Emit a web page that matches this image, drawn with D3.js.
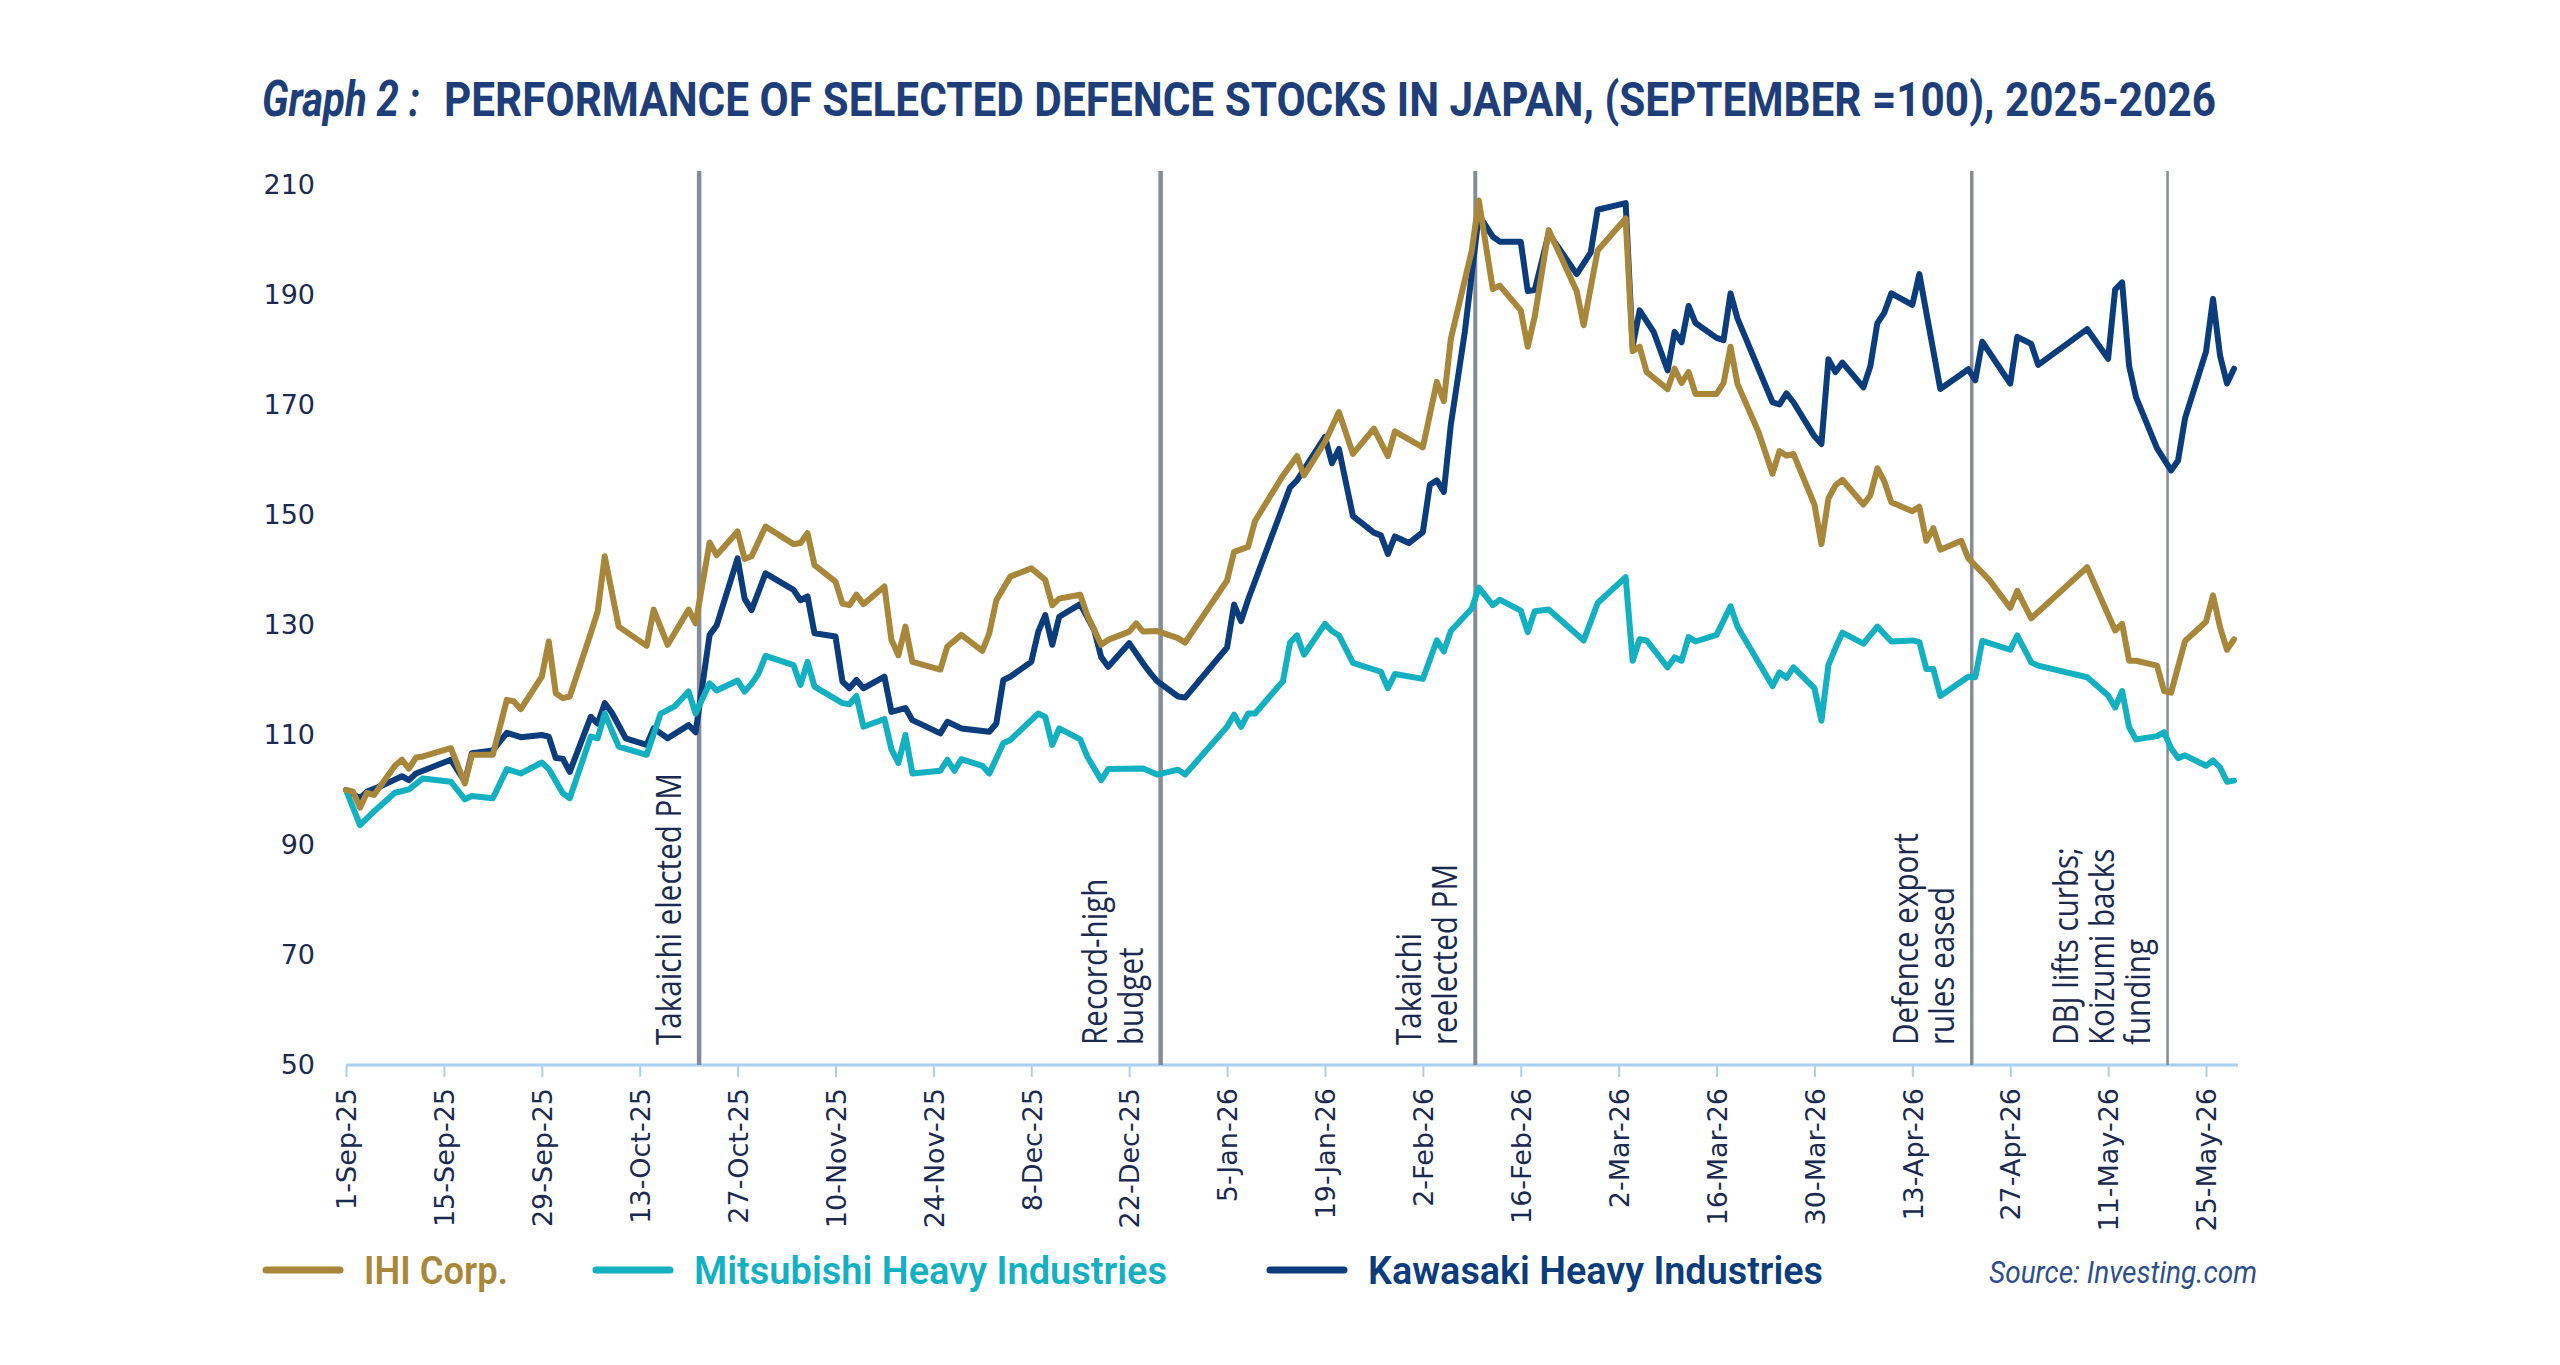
<!DOCTYPE html>
<html>
<head>
<meta charset="utf-8">
<script src="https://cdn.jsdelivr.net/npm/d3@7"></script>
<style>
  body { margin: 0; background: #fff; }
  svg { display: block; }
</style>
</head>
<body>
<svg width="2560" height="1365"></svg>
<script>
// data (index, 1-Sep-25 = 100)
var ihi = [
  ["2025-09-01",100],["2025-09-02",99.7],["2025-09-03",96.8],["2025-09-04",99.5],["2025-09-05",99.1],
  ["2025-09-08",104.4],["2025-09-09",105.5],["2025-09-10",103.9],["2025-09-11",105.9],["2025-09-12",106.1],
  ["2025-09-16",107.6],["2025-09-18",101.2],["2025-09-19",106.4],["2025-09-22",106.4],["2025-09-24",116.4],
  ["2025-09-25",116.1],["2025-09-26",114.7],["2025-09-29",120.6],["2025-09-30",127],["2025-10-01",117.6],
  ["2025-10-02",116.7],["2025-10-03",117],["2025-10-06",128.5],["2025-10-07",132.5],["2025-10-08",142.5],
  ["2025-10-10",129.7],["2025-10-14",126.2],["2025-10-15",132.8],["2025-10-17",126.4],["2025-10-20",132.8],
  ["2025-10-21",130.3],["2025-10-23",145],["2025-10-24",142.7],["2025-10-27",147],["2025-10-28",142],
  ["2025-10-29",142.5],["2025-10-31",147.9],["2025-11-04",144.7],["2025-11-05",144.9],["2025-11-06",146.7],
  ["2025-11-07",140.9],["2025-11-10",137.9],["2025-11-11",133.9],["2025-11-12",133.6],["2025-11-13",135.5],
  ["2025-11-14",133.8],["2025-11-17",137],["2025-11-18",127.3],["2025-11-19",124.5],["2025-11-20",129.7],
  ["2025-11-21",123.3],["2025-11-25",121.9],["2025-11-26",126.1],["2025-11-28",128.2],["2025-12-01",125.3],
  ["2025-12-02",128.5],["2025-12-03",134.5],["2025-12-05",138.8],["2025-12-08",140.3],["2025-12-10",138.2],
  ["2025-12-11",133.6],["2025-12-12",134.8],["2025-12-15",135.5],["2025-12-16",131.8],["2025-12-18",126.4],
  ["2025-12-19",127.3],["2025-12-22",128.8],["2025-12-23",130.3],["2025-12-24",128.8],["2025-12-26",128.9],
  ["2025-12-29",127.6],["2025-12-30",126.8],["2026-01-05",138.1],["2026-01-06",143.3],["2026-01-08",144.2],
  ["2026-01-09",148.9],["2026-01-13",157.2],["2026-01-15",160.7],["2026-01-16",157.2],["2026-01-19",163.3],
  ["2026-01-21",168.7],["2026-01-23",161.1],["2026-01-26",165.7],["2026-01-28",160.7],["2026-01-29",165.2],
  ["2026-02-02",162.3],["2026-02-04",174.2],["2026-02-05",170.7],["2026-02-06",182],["2026-02-09",198.1],
  ["2026-02-10",207.2],["2026-02-12",191.1],["2026-02-13",191.7],["2026-02-16",187.2],["2026-02-17",180.6],
  ["2026-02-18",186.1],["2026-02-20",201.8],["2026-02-24",190.7],["2026-02-25",184.5],["2026-02-27",198.1],
  ["2026-03-03",203.9],["2026-03-04",179.8],["2026-03-05",180.6],["2026-03-06",176],["2026-03-09",172.9],
  ["2026-03-10",176.6],["2026-03-11",174],["2026-03-12",176],["2026-03-13",172],["2026-03-16",172],
  ["2026-03-17",174],["2026-03-18",180.6],["2026-03-19",173.8],["2026-03-22",165.1],["2026-03-24",157.5],
  ["2026-03-25",161.6],["2026-03-26",160.8],["2026-03-27",161.1],["2026-03-30",151.9],["2026-03-31",144.7],
  ["2026-04-01",153],["2026-04-02",155.4],["2026-04-03",156.4],["2026-04-06",151.9],["2026-04-07",153.6],
  ["2026-04-08",158.5],["2026-04-09",156.1],["2026-04-10",152.3],["2026-04-13",150.7],["2026-04-14",151.5],
  ["2026-04-15",145.3],["2026-04-16",147.6],["2026-04-17",143.7],["2026-04-20",145.3],["2026-04-21",142.1],
  ["2026-04-24",138.2],["2026-04-27",133.1],["2026-04-28",136.2],["2026-04-30",131.2],["2026-05-08",140.5],
  ["2026-05-12",129],["2026-05-13",130.2],["2026-05-14",123.5],["2026-05-15",123.5],["2026-05-18",122.6],
  ["2026-05-19",118],["2026-05-20",117.7],["2026-05-22",127.1],["2026-05-25",130.6],["2026-05-26",135.4],
  ["2026-05-27",129.6],["2026-05-28",125.5],["2026-05-29",127.4]
];

var mitsubishi = [
  ["2025-09-01",100],["2025-09-03",93.6],["2025-09-05",96.1],["2025-09-08",99.5],["2025-09-10",100.1],
  ["2025-09-12",102.1],["2025-09-16",101.5],["2025-09-18",98.3],["2025-09-19",98.9],["2025-09-22",98.5],
  ["2025-09-24",103.8],["2025-09-26",103],["2025-09-29",105],["2025-09-30",103.8],["2025-10-02",99.4],
  ["2025-10-03",98.5],["2025-10-06",109.7],["2025-10-07",109.4],["2025-10-08",113.9],["2025-10-10",107.9],
  ["2025-10-14",106.4],["2025-10-16",113.9],["2025-10-18",115.2],["2025-10-20",117.9],["2025-10-21",113.9],
  ["2025-10-23",119.4],["2025-10-24",118.1],["2025-10-27",119.9],["2025-10-28",117.9],["2025-10-29",119.3],
  ["2025-10-30",121.2],["2025-10-31",124.4],["2025-11-04",122.7],["2025-11-05",119.1],["2025-11-06",123.3],
  ["2025-11-07",118.8],["2025-11-11",115.8],["2025-11-12",115.6],["2025-11-13",117.1],["2025-11-14",111.5],
  ["2025-11-17",112.9],["2025-11-18",107.4],["2025-11-19",104.9],["2025-11-20",110],["2025-11-21",103],
  ["2025-11-25",103.5],["2025-11-26",105.5],["2025-11-27",103.5],["2025-11-28",105.6],["2025-12-01",104.4],
  ["2025-12-02",103],["2025-12-04",108.5],["2025-12-05",109.1],["2025-12-09",113.9],["2025-12-10",113.3],
  ["2025-12-11",108.2],["2025-12-12",111.2],["2025-12-15",109.2],["2025-12-16",106.1],["2025-12-18",101.8],
  ["2025-12-19",103.8],["2025-12-24",103.9],["2025-12-26",102.8],["2025-12-29",103.7],["2025-12-30",102.8],
  ["2026-01-05",111.5],["2026-01-06",113.7],["2026-01-07",111.5],["2026-01-08",113.9],["2026-01-09",113.9],
  ["2026-01-13",119.8],["2026-01-14",126.8],["2026-01-15",128.1],["2026-01-16",124.6],["2026-01-19",130.2],
  ["2026-01-20",128.9],["2026-01-21",128.1],["2026-01-23",123.1],["2026-01-27",121.5],["2026-01-28",118.5],
  ["2026-01-29",121.1],["2026-02-02",120.2],["2026-02-04",127.2],["2026-02-05",125.2],["2026-02-06",128.9],
  ["2026-02-09",133],["2026-02-10",136.8],["2026-02-12",133.6],["2026-02-13",134.6],["2026-02-16",132.6],
  ["2026-02-17",128.7],["2026-02-18",132.5],["2026-02-20",132.8],["2026-02-25",127.2],["2026-02-27",134],
  ["2026-03-03",138.7],["2026-03-04",123.5],["2026-03-05",127.4],["2026-03-06",127.2],["2026-03-09",122.3],
  ["2026-03-10",124.1],["2026-03-11",123.5],["2026-03-12",127.8],["2026-03-13",127],["2026-03-16",128.2],
  ["2026-03-18",133.4],["2026-03-19",129.7],["2026-03-24",118.9],["2026-03-25",121.4],["2026-03-26",120.4],
  ["2026-03-27",122.3],["2026-03-30",118.5],["2026-03-31",112.6],["2026-04-01",122.7],["2026-04-02",125.8],
  ["2026-04-03",128.6],["2026-04-06",126.6],["2026-04-08",129.7],["2026-04-10",127],["2026-04-13",127.2],
  ["2026-04-14",126.9],["2026-04-15",122],["2026-04-16",122],["2026-04-17",117.1],["2026-04-21",120.6],
  ["2026-04-22",120.5],["2026-04-23",127.1],["2026-04-27",125.5],["2026-04-28",128.1],["2026-04-30",123.2],
  ["2026-05-01",122.6],["2026-05-08",120.5],["2026-05-11",117.2],["2026-05-12",115],["2026-05-13",118],
  ["2026-05-14",111.4],["2026-05-15",109.2],["2026-05-18",109.8],["2026-05-19",110.5],["2026-05-20",107.6],
  ["2026-05-21",105.8],["2026-05-22",106.3],["2026-05-25",104.4],["2026-05-26",105.4],["2026-05-27",104.1],
  ["2026-05-28",101.5],["2026-05-29",101.7]
];

var kawasaki = [
  ["2025-09-01",100],["2025-09-03",98.5],["2025-09-04",99.7],["2025-09-06",100.7],["2025-09-09",102.5],
  ["2025-09-10",101.8],["2025-09-11",103],["2025-09-16",105.5],["2025-09-18",101.5],["2025-09-19",106.7],
  ["2025-09-22",107.2],["2025-09-24",110.4],["2025-09-26",109.6],["2025-09-29",110],["2025-09-30",109.7],
  ["2025-10-01",105.8],["2025-10-02",105.7],["2025-10-03",103.3],["2025-10-06",113.3],["2025-10-07",112.1],
  ["2025-10-08",115.8],["2025-10-09",114.1],["2025-10-11",109.4],["2025-10-14",108.2],["2025-10-15",111.2],
  ["2025-10-17",109.4],["2025-10-20",111.8],["2025-10-21",110.5],["2025-10-23",128.2],["2025-10-24",129.9],
  ["2025-10-27",142.1],["2025-10-28",134.8],["2025-10-29",132.7],["2025-10-31",139.4],["2025-11-04",136.4],
  ["2025-11-05",134.5],["2025-11-06",135.2],["2025-11-07",128.5],["2025-11-10",127.9],["2025-11-11",119.7],
  ["2025-11-12",118.5],["2025-11-13",120],["2025-11-14",118.5],["2025-11-17",120.6],["2025-11-18",114.2],
  ["2025-11-20",114.9],["2025-11-21",112.7],["2025-11-25",110.3],["2025-11-26",112.4],["2025-11-28",111.2],
  ["2025-12-02",110.6],["2025-12-03",112.1],["2025-12-04",120],["2025-12-05",120.6],["2025-12-08",123.3],
  ["2025-12-09",128.8],["2025-12-10",131.8],["2025-12-11",126.4],["2025-12-12",131.5],["2025-12-15",133.8],
  ["2025-12-17",129.1],["2025-12-18",124.2],["2025-12-19",122.4],["2025-12-22",126.7],["2025-12-24",123],
  ["2025-12-25",121.3],["2025-12-26",119.8],["2025-12-29",117],["2025-12-30",116.8],["2026-01-05",125.9],
  ["2026-01-06",133.7],["2026-01-07",130.7],["2026-01-08",134.6],["2026-01-14",155],["2026-01-15",156.3],
  ["2026-01-19",164.2],["2026-01-20",159.4],["2026-01-21",162],["2026-01-23",149.8],["2026-01-26",146.8],
  ["2026-01-27",146.3],["2026-01-28",142.9],["2026-01-29",146.1],["2026-01-31",144.9],["2026-02-02",146.9],
  ["2026-02-03",155.5],["2026-02-04",156.3],["2026-02-05",154.2],["2026-02-06",166.4],["2026-02-08",183.3],
  ["2026-02-10",204.5],["2026-02-12",200.6],["2026-02-13",199.7],["2026-02-16",199.7],["2026-02-17",190.7],
  ["2026-02-18",190.9],["2026-02-20",201.2],["2026-02-24",193.8],["2026-02-26",197.7],["2026-02-27",205.5],
  ["2026-03-03",206.7],["2026-03-04",180.6],["2026-03-05",187.2],["2026-03-07",183.3],["2026-03-09",176.3],
  ["2026-03-10",183.3],["2026-03-11",181.4],["2026-03-12",188],["2026-03-13",184.9],["2026-03-16",182.2],
  ["2026-03-17",181.8],["2026-03-18",190.3],["2026-03-19",185.7],["2026-03-24",170.5],["2026-03-25",170.1],
  ["2026-03-26",172.1],["2026-03-27",170.5],["2026-03-30",164.3],["2026-03-31",162.9],["2026-04-01",178.3],
  ["2026-04-02",176],["2026-04-03",177.7],["2026-04-06",173.2],["2026-04-07",177.1],["2026-04-08",184.9],
  ["2026-04-09",186.8],["2026-04-10",190.3],["2026-04-13",188.2],["2026-04-14",193.8],["2026-04-17",172.9],
  ["2026-04-20",175.6],["2026-04-21",176.5],["2026-04-22",174.5],["2026-04-23",181.5],["2026-04-27",173.9],
  ["2026-04-28",182.4],["2026-04-30",181.1],["2026-05-01",177.3],["2026-05-08",183.8],["2026-05-11",178.4],
  ["2026-05-12",191],["2026-05-13",192.3],["2026-05-14",177.1],["2026-05-15",171.4],["2026-05-18",162.1],
  ["2026-05-20",158.1],["2026-05-21",159.9],["2026-05-22",167.6],["2026-05-25",179.7],["2026-05-26",189.3],
  ["2026-05-27",179],["2026-05-28",173.9],["2026-05-29",176.6]
];

var seriesNames = ["IHI Corp.", "Mitsubishi Heavy Industries", "Kawasaki Heavy Industries"];
var seriesColors = ["#a8873b", "#13b0c2", "#0b3c7c"];

var tickDates = ["2025-09-01","2025-09-15","2025-09-29","2025-10-13","2025-10-27","2025-11-10",
  "2025-11-24","2025-12-08","2025-12-22","2026-01-05","2026-01-19","2026-02-02","2026-02-16",
  "2026-03-02","2026-03-16","2026-03-30","2026-04-13","2026-04-27","2026-05-11","2026-05-25"];
var yTicks = [50, 70, 90, 110, 130, 150, 170, 190, 210];

var eventDates = ["2025-10-21", "2025-12-26", "2026-02-09", "2026-04-21", "2026-05-19"];
var eventLabels = [
  ["Takaichi elected PM"],
  ["Record-high", "budget"],
  ["Takaichi", "reelected PM"],
  ["Defence export", "rules eased"],
  ["DBJ lifts curbs;", "Koizumi backs", "funding"]
];

var parse = d3.timeParse("%Y-%m-%d");
var navy = "#1b2a50";
var narrow = "'Liberation Sans Narrow', 'Roboto', 'Open Sans', sans-serif";

var svg = d3.select("svg");
svg.append("rect").attr("width", 2560).attr("height", 1365).attr("fill", "#fff");

// scales
var x = d3.scaleTime()
    .domain([parse("2025-09-01"), parse("2026-05-29")])
    .range([346, 2234]);
var y = d3.scaleLinear().domain([50, 210]).range([1065, 185]);

// title
function fit(sel, w) {
  sel.attr("textLength", w).attr("lengthAdjust", "spacingAndGlyphs");
}
svg.append("text")
    .attr("x", 262).attr("y", 116)
    .style("font-family", narrow).style("font-weight", "bold").style("font-style", "italic")
    .style("font-size", "49px").style("fill", "#1d3e78")
    .text("Graph 2 :")
    .call(fit, 158);
svg.append("text")
    .attr("x", 444).attr("y", 116)
    .style("font-family", narrow).style("font-weight", "bold")
    .style("font-size", "49px").style("fill", "#1d3e78")
    .text("PERFORMANCE OF SELECTED DEFENCE STOCKS IN JAPAN, (SEPTEMBER =100), 2025-2026")
    .call(fit, 1772);

// y axis (labels only)
var gy = svg.append("g")
    .attr("transform", "translate(346,0)")
    .call(d3.axisLeft(y).tickValues(yTicks).tickSize(0).tickPadding(31));
gy.select(".domain").remove();
gy.selectAll("text")
    .style("font-family", "'DejaVu Sans', sans-serif")
    .style("font-size", "27px")
    .style("fill", navy);

// x axis
var gx = svg.append("g")
    .attr("transform", "translate(0,1065)")
    .call(d3.axisBottom(x)
        .tickValues(tickDates.map(parse))
        .tickFormat(d3.timeFormat("%-d-%b-%y"))
        .tickSize(12).tickSizeOuter(0));
gx.select(".domain").remove();
gx.selectAll(".tick line").attr("stroke", "#a9d0f0").attr("stroke-width", 2);
gx.selectAll("text")
    .attr("transform", "rotate(-90)")
    .attr("x", -23).attr("y", 0).attr("dy", "0.36em")
    .style("text-anchor", "end")
    .style("font-family", "'DejaVu Sans', sans-serif")
    .style("font-size", "27px")
    .style("fill", navy);
gx.append("line")
    .attr("x1", x.range()[0]).attr("x2", x.range()[1] + 4)
    .attr("stroke", "#a9d0f0").attr("stroke-width", 3);

// event lines + labels
var lineWidths = [4.5, 4.5, 4, 3.5, 2.5];
var labelScale = null;
eventDates.forEach(function (ds, i) {
  var ex = x(d3.timeHour.offset(parse(ds), 12));
  svg.append("line")
      .attr("x1", ex).attr("x2", ex)
      .attr("y1", 171).attr("y2", 1065)
      .attr("stroke", "#858c97").attr("stroke-width", lineWidths[i]);
  var lines = eventLabels[i];
  lines.forEach(function (t, j) {
    var bx = ex - 18 - (lines.length - 1 - j) * 36;
    var txt = svg.append("text")
        .attr("transform", "translate(" + bx + ",1045) rotate(-90)")
        .style("font-family", "'Open Sans', sans-serif")
        .style("font-size", "34px")
        .style("fill", navy)
        .text(t);
    var len = txt.node().getComputedTextLength();
    if (labelScale === null) labelScale = 272 / len;
    txt.call(fit, len * labelScale);
  });
});

// series lines
var line = d3.line()
    .x(function (d) { return x(parse(d[0])); })
    .y(function (d) { return y(d[1]); });

var drawOrder = [2, 1, 0];
var allSeries = [ihi, mitsubishi, kawasaki];
drawOrder.forEach(function (i) {
  svg.append("path")
      .datum(allSeries[i])
      .attr("fill", "none")
      .attr("stroke", seriesColors[i])
      .attr("stroke-width", 6)
      .attr("stroke-linejoin", "round")
      .attr("stroke-linecap", "round")
      .attr("d", line);
});

// legend
var legendX = [266, 596, 1270];
var legendW = [144, 473, 455];
seriesNames.forEach(function (name, i) {
  svg.append("line")
      .attr("x1", legendX[i]).attr("x2", legendX[i] + 74)
      .attr("y1", 1270).attr("y2", 1270)
      .attr("stroke", seriesColors[i]).attr("stroke-width", 7)
      .attr("stroke-linecap", "round");
  svg.append("text")
      .attr("x", legendX[i] + 98).attr("y", 1284)
      .style("font-family", narrow).style("font-weight", "600")
      .style("font-size", "38px").style("fill", seriesColors[i])
      .text(name)
      .call(fit, legendW[i]);
});
svg.append("text")
    .attr("x", 1989).attr("y", 1283)
    .style("font-family", narrow).style("font-style", "italic")
    .style("font-size", "31px").style("fill", "#2d4f8c")
    .text("Source: Investing.com")
    .call(fit, 268);
</script>
</body>
</html>
